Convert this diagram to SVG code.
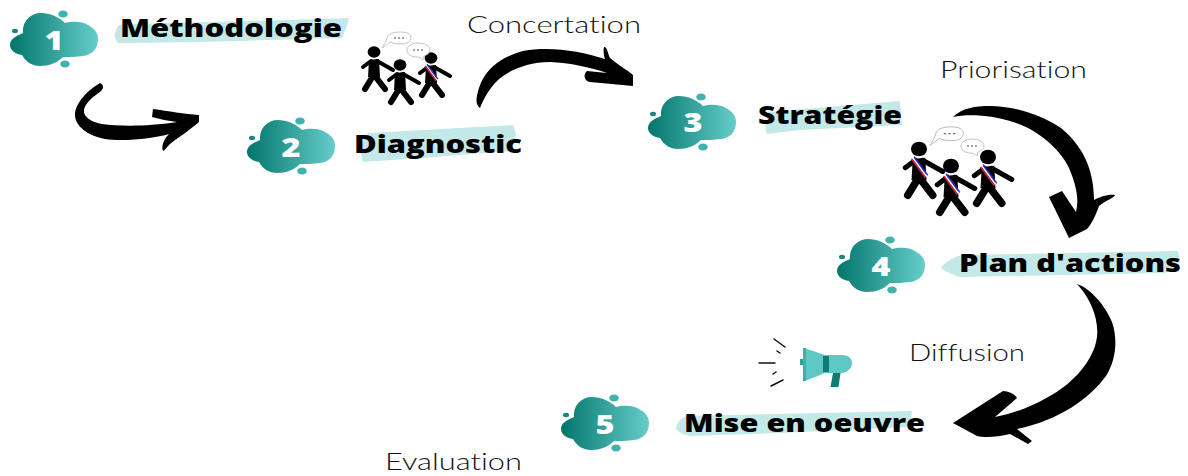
<svg xmlns="http://www.w3.org/2000/svg" width="1188" height="476" viewBox="0 0 1188 476">
<style>
text{font-variant-ligatures:none}
.num{font-family:"Open Sans","Liberation Sans",sans-serif;font-weight:800;font-size:27px;fill:#fff;text-anchor:middle}
.title{font-family:"Open Sans","Liberation Sans",sans-serif;font-weight:800;font-size:25px;fill:#000}
.edge{font-family:Lato,"Liberation Sans",sans-serif;font-weight:300;font-size:23px;fill:#111}
.hl{fill:#c2e9e8}
.arrow{fill:#000}
.dot{fill:#3fb3ae}
.bub{fill:#fff;stroke:#b4b4b4;stroke-width:.8}
.limb{stroke:#000;stroke-linecap:round;fill:none}
</style>
<defs>
<linearGradient id="g" x1="0" x2="1" y1="0" y2="0"><stop offset="0" stop-color="#02766b"/><stop offset="1" stop-color="#66cdca"/></linearGradient>
<g id="blob">
<path fill="url(#g)" d="M10,45C10,39 16,36 23,33C22,21 31,13 41,13C50,13 59,17 65,23C72,21 82,21 88,25C95,29 98,33 98,39C98,49 92,55 83,56C76,57 69,57 63,57C57,63 49,66 40,66C32,66 26,62 22,55C15,54 10,50 10,45Z"/>
<ellipse class="dot" cx="63" cy="14" rx="4.800" ry="3.500"/>
<ellipse class="dot" cx="65" cy="64" rx="4.800" ry="3.500"/>
<ellipse cx="15" cy="31" rx="3" ry="2.200" fill="#17897f"/>
</g>
<g id="fig">
<ellipse cx="0" cy="0" rx="6.400" ry="5.800"/>
<path d="M-5,8L5,7L6,25L-6,25Z"/>
<path class="limb" stroke-width="4" d="M-11,15L-3,9M3,9L19,18"/>
<path class="limb" stroke-width="6" d="M-1,24L-9,37M1,24L11,37"/>
</g>
<g id="sash">
<path d="M-5,7L6,22" stroke="#2b2bd6" stroke-width="1.200" fill="none" transform="translate(1,-.9)"/>
<path d="M-5,7L6,22" stroke="#fff" stroke-width="1.200" fill="none"/>
<path d="M-5,7L6,22" stroke="#e0213c" stroke-width="1.200" fill="none" transform="translate(-1,.9)"/>
</g>
<g id="bub1"><path class="bub" d="M0,15C2,12 4,9 5,5C6,1 11,-1 18,-1C25,-1 29,1 29,4C29,9 25,11 18,11C14,11 10,10 8,9C6,11 3,13 0,15Z"/><path d="M12,5h2M16,5h2M20,5h2" stroke="#444" stroke-width="1"/></g>
<g id="bub2"><path class="bub" d="M17,17C15,15 13,14 11,14C5,14 1,11 1,7C1,3 6,0 12,0C19,0 24,3 24,7C24,10 21,12 18,13Z"/><path d="M7,7h2M11,7h2M15,7h2" stroke="#444" stroke-width="1"/></g>
</defs>
<rect width="1188" height="476" fill="#fff"/>

<g id="connectors">
<path class="arrow" d="M100,83C105,85 103,90 100,92C91,98 85,104 84,110C83,116 90,122 102,124C118,126 145,127 177,122C168,121 160,119 152,117L153,109C168,111 185,114 199,115L199,122C190,130 176,139 170,144C167,147 165,150 163,151C161,146 164,139 169,134C155,138 125,142 105,139C88,136 75,126 75,115C75,103 88,90 100,83Z"/>
<path class="arrow" d="M480,108C475,104 476,98 479,88C484,72 497,58 523,51C550,46 580,51 605,59C604,56 603,51 604,47C607,46 608,54 610,58C617,64 627,70 633,75L633,86L590,82C584,81 583,74 587,71L607,73C590,67 570,63 550,62C527,62 507,71 497,81C489,89 484,98 480,108Z"/>
<path class="arrow" d="M953,117C962,108 975,106 990,106C1013,106 1040,114 1061,128C1083,146 1094,170 1094,200C1100,197 1108,194 1115,195C1114,198 1105,201 1099,206C1096,215 1091,225 1087,229L1069,238L1049,197L1062,191L1076,212C1079,200 1077,187 1069,168C1062,152 1040,130 1013,122C995,116 970,113 953,117Z"/>
<path class="arrow" d="M1077,284C1090,288 1105,305 1112,322C1118,340 1116,360 1106,376C1090,398 1060,420 1017,429L1032,441L1028,444L1010,434C998,437 985,438 977,436L953,423L1003,391C1008,391 1015,394 1017,398L995,417C1010,414 1030,408 1048,397C1073,384 1094,360 1097,337C1099,318 1090,298 1077,284Z"/>
</g>

<g id="node1">
<use href="#blob"/>
<text class="num" x="54" y="50" textLength="19" lengthAdjust="spacingAndGlyphs">1</text>
<path class="hl" d="M119,25C170,22 280,21 349,18L347,26L342,38C270,40 180,43 118,43C114,38 113,33 119,25Z"/>
<text class="title" x="120" y="37" textLength="222" lengthAdjust="spacingAndGlyphs">Méthodologie</text>
</g>
<g id="node2">
<use href="#blob" transform="translate(237,107)"/>
<text class="num" x="291" y="157" textLength="19" lengthAdjust="spacingAndGlyphs">2</text>
<path class="hl" d="M368,133L513,125L516,135L510,151C460,155 410,159 363,162C358,150 362,140 368,133Z"/>
<text class="title" x="354" y="153" textLength="168" lengthAdjust="spacingAndGlyphs">Diagnostic</text>
</g>
<g id="node3">
<use href="#blob" transform="translate(638,83)"/>
<text class="num" x="693" y="132" textLength="19" lengthAdjust="spacingAndGlyphs">3</text>
<path class="hl" d="M768,112L900,101L902,125L800,130L767,134C764,128 766,120 768,112Z"/>
<text class="title" x="758" y="124" textLength="144" lengthAdjust="spacingAndGlyphs">Stratégie</text>
</g>
<g id="node4">
<use href="#blob" transform="translate(827,226)"/>
<text class="num" x="881" y="276" textLength="19" lengthAdjust="spacingAndGlyphs">4</text>
<path class="hl" d="M961,255L1178,251L1180,262L1165,273L960,277C950,274 945,271 941,268C945,262 952,258 961,255Z"/>
<text class="title" x="959" y="272" textLength="222" lengthAdjust="spacingAndGlyphs">Plan d'actions</text>
</g>
<g id="node5">
<use href="#blob" transform="translate(551,384)"/>
<text class="num" x="605" y="434" textLength="19" lengthAdjust="spacingAndGlyphs">5</text>
<path class="hl" d="M686,416L912,411L910,427L780,433L690,436C682,434 677,432 676,428C677,423 680,419 686,416Z"/>
<text class="title" x="684" y="432" textLength="241" lengthAdjust="spacingAndGlyphs">Mise en oeuvre</text>
</g>

<g id="people1">
<use href="#fig" transform="translate(374,52)"/>
<use href="#fig" transform="translate(400,65)"/>
<use href="#fig" transform="translate(431,58)"/>
<use href="#sash" transform="translate(431,58)"/>
<use href="#bub1" transform="translate(382,33)"/>
<use href="#bub2" transform="translate(406,43)"/>
</g>
<g id="people2">
<use href="#fig" transform="translate(919,149) scale(1.250)"/><use href="#sash" transform="translate(919,149) scale(1.250)"/>
<use href="#fig" transform="translate(951,166) scale(1.250)"/><use href="#sash" transform="translate(951,166) scale(1.250)"/>
<use href="#fig" transform="translate(988,157) scale(1.250)"/><use href="#sash" transform="translate(988,157) scale(1.250)"/>
<use href="#bub1" transform="translate(930,128) scale(1.150)"/>
<use href="#bub2" transform="translate(960,139)"/>
</g>
<g id="megaphone">
<path fill="#2f9f98" d="M800,359h3v6h-3z"/>
<path fill="#5ec8c5" d="M804,348L825,355H842C849,355 852,359 852,363C852,368 848,372 842,373H825L805,381Z"/>
<path fill="#3fb0ab" d="M803,348h3v33h-3z"/>
<path fill="#0b7d72" d="M823,356h6v16h-6zM833,373h7.500l-2,14h-8z"/>
<path fill="none" stroke="#111" stroke-linecap="round" d="M774,339L785,347M777,351L780,353M759,363H775M773,374L776,372M771,386L783,380" stroke-width="1.500"/>
</g>

<text class="edge" x="467" y="33" textLength="174" lengthAdjust="spacingAndGlyphs">Concertation</text>
<text class="edge" x="940" y="78" textLength="147" lengthAdjust="spacingAndGlyphs">Priorisation</text>
<text class="edge" x="909" y="361" textLength="116" lengthAdjust="spacingAndGlyphs">Diffusion</text>
<text class="edge" x="385" y="470" textLength="137" lengthAdjust="spacingAndGlyphs">Evaluation</text>
</svg>
